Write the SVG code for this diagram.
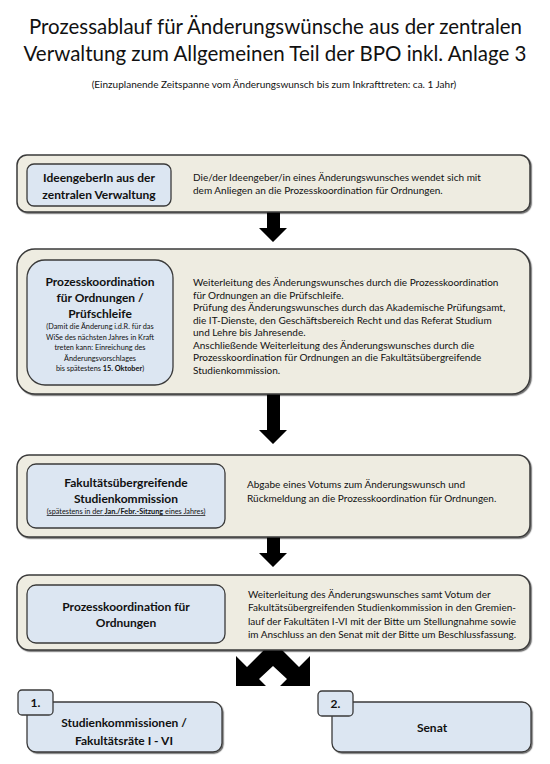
<svg xmlns="http://www.w3.org/2000/svg" width="550" height="764" viewBox="0 0 550 764">
<defs>
<style>
text{font-family:Lato,"Liberation Sans",sans-serif;fill:#111}
.title{font-size:21px;text-anchor:middle}
.sub{font-size:10px;text-anchor:middle}
.outer{fill:#eeece1;stroke:#3a3a3a;stroke-width:1.5}
.inner{fill:#dce6f2;stroke:#3a3a3a;stroke-width:1.3}
.lbl{font-size:12px;font-weight:bold;text-anchor:middle}
.small{font-size:7.3px;text-anchor:middle}
.desc{font-size:10px}
.arrow{fill:#000}
</style>
<filter id="sh" x="-5%" y="-5%" width="110%" height="120%">
<feDropShadow dx="1.2" dy="1.2" stdDeviation="0.6" flood-color="#000" flood-opacity="0.55"/>
</filter>
</defs>
<rect width="550" height="764" fill="#fff"/>
<g id="title">
<text class="title" x="275.5" y="34" textLength="493" lengthAdjust="spacingAndGlyphs">Prozessablauf für Änderungswünsche aus der zentralen</text>
<text class="title" x="275" y="61" textLength="503" lengthAdjust="spacingAndGlyphs">Verwaltung zum Allgemeinen Teil der BPO inkl. Anlage 3</text>
<text class="sub" x="274" y="88">(Einzuplanende Zeitspanne vom Änderungswunsch bis zum Inkrafttreten: ca. 1 Jahr)</text>
</g>
<g id="connectors">
<polygon class="arrow" points="267,212 280,212 280,228 287,228 273,242 259,228 267,228"/>
<polygon class="arrow" points="267,394 280,394 280,430 287,430 273,444 259,430 267,430"/>
<polygon class="arrow" points="267,537 280,537 280,553 287,553 273,567 259,553 267,553"/>
<polygon class="arrow" points="264,650 282,650 299,667 310,656 310,686 280,686 287,679 273,666 259,679 266,686 236,686 236,656 247,667"/>
</g>
<g id="step1">
<rect class="outer" filter="url(#sh)" x="17" y="155" width="513" height="57" rx="10"/>
<rect class="inner" x="27" y="164" width="144" height="42" rx="7"/>
<text class="lbl" x="99" y="182">IdeengeberIn aus der</text>
<text class="lbl" x="99" y="199">zentralen Verwaltung</text>
<text class="desc" x="193" y="181">Die/der Ideengeber/in eines Änderungswunsches wendet sich mit</text>
<text class="desc" x="193" y="194">dem Anliegen an die Prozesskoordination für Ordnungen.</text>
</g>
<g id="step2">
<rect class="outer" filter="url(#sh)" x="17" y="249" width="513" height="145" rx="18"/>
<rect class="inner" x="27" y="260" width="146" height="125" rx="18"/>
<text class="lbl" x="100" y="286">Prozesskoordination</text>
<text class="lbl" x="100" y="302">für Ordnungen /</text>
<text class="lbl" x="100" y="318">Prüfschleife</text>
<text class="small" x="100" y="329">(Damit die Änderung i.d.R. für das</text>
<text class="small" x="100" y="339.5">WiSe des nächsten Jahres in Kraft</text>
<text class="small" x="100" y="350">treten kann: Einreichung des</text>
<text class="small" x="100" y="360.5">Änderungsvorschlages</text>
<text class="small" x="100" y="371">bis spätestens <tspan font-weight="bold">15. Oktober</tspan>)</text>
<text class="desc" x="193" y="286">Weiterleitung des Änderungswunsches durch die Prozesskoordination</text>
<text class="desc" x="193" y="298.5">für Ordnungen an die Prüfschleife.</text>
<text class="desc" x="193" y="311">Prüfung des Änderungswunsches durch das Akademische Prüfungsamt,</text>
<text class="desc" x="193" y="323.5">die IT-Dienste, den Geschäftsbereich Recht und das Referat Studium</text>
<text class="desc" x="193" y="336">und Lehre bis Jahresende.</text>
<text class="desc" x="193" y="348.5">Anschließende Weiterleitung des Änderungswunsches durch die</text>
<text class="desc" x="193" y="361">Prozesskoordination für Ordnungen an die Fakultätsübergreifende</text>
<text class="desc" x="193" y="373.5">Studienkommission.</text>
</g>
<g id="step3">
<rect class="outer" filter="url(#sh)" x="17" y="455" width="513" height="82" rx="12"/>
<rect class="inner" x="27" y="464" width="198" height="64" rx="9"/>
<text class="lbl" x="126" y="487">Fakultätsübergreifende</text>
<text class="lbl" x="126" y="503">Studienkommission</text>
<text class="small" x="126" y="514" text-decoration="underline">(spätestens in der <tspan font-weight="bold">Jan./Febr.-Sitzung</tspan> eines Jahres)</text>
<text class="desc" x="247" y="488">Abgabe eines Votums zum Änderungswunsch und</text>
<text class="desc" x="247" y="501.5">Rückmeldung an die Prozesskoordination für Ordnungen.</text>
</g>
<g id="step4">
<rect class="outer" filter="url(#sh)" x="17" y="575" width="513" height="75" rx="12"/>
<rect class="inner" x="27" y="585" width="198" height="58" rx="9"/>
<text class="lbl" x="126" y="611">Prozesskoordination für</text>
<text class="lbl" x="126" y="627">Ordnungen</text>
<text class="desc" x="248" y="598">Weiterleitung des Änderungswunsches samt Votum der</text>
<text class="desc" x="248" y="611.3" textLength="268" lengthAdjust="spacing">Fakultätsübergreifenden Studienkommission in den Gremien-</text>
<text class="desc" x="248" y="624.6" textLength="268" lengthAdjust="spacing">lauf der Fakultäten I-VI mit der Bitte um Stellungnahme sowie</text>
<text class="desc" x="248" y="638" textLength="268" lengthAdjust="spacing">im Anschluss an den Senat mit der Bitte um Beschlussfassung.</text>
</g>
<g id="target1">
<rect class="inner" filter="url(#sh)" x="27" y="702" width="195" height="50" rx="9"/>
<rect class="inner" x="18" y="690" width="35" height="25" rx="4"/>
<text class="lbl" x="35.5" y="707">1.</text>
<text class="lbl" x="124" y="727">Studienkommissionen /</text>
<text class="lbl" x="124" y="745">Fakultätsräte I - VI</text>
</g>
<g id="target2">
<rect class="inner" filter="url(#sh)" x="332" y="702" width="199" height="50" rx="9"/>
<rect class="inner" x="318" y="691" width="35" height="25" rx="4"/>
<text class="lbl" x="335.5" y="708">2.</text>
<text class="lbl" x="432" y="732">Senat</text>
</g>
</svg>
